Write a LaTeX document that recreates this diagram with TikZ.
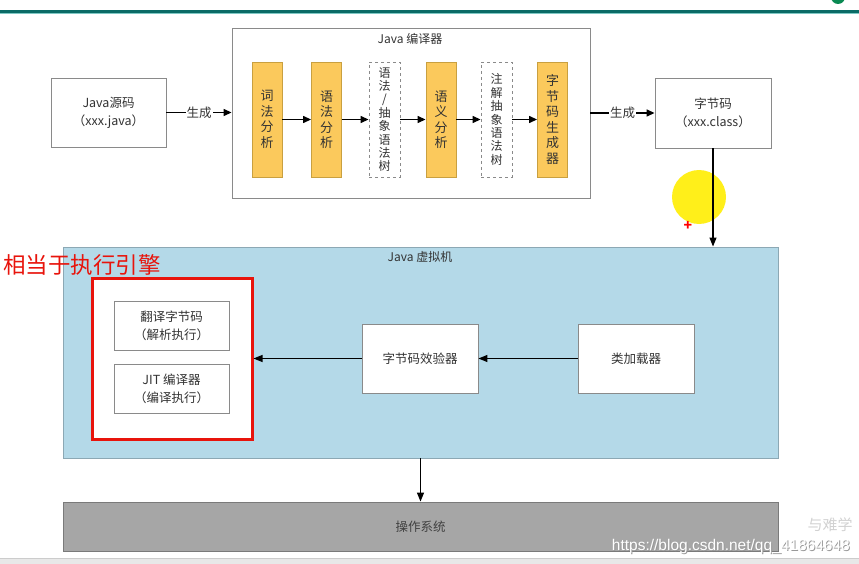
\documentclass[tikz,border=0pt]{standalone}
\usepackage{fontspec}
\setmainfont{Noto Sans CJK SC}
\newfontfamily\wmfont{Liberation Sans}
\usetikzlibrary{arrows.meta}
\definecolor{teal1}{HTML}{0B6B66}
\definecolor{teal2}{HTML}{7FC8C4}
\definecolor{boxgray}{HTML}{8A8A8A}
\definecolor{txt}{HTML}{333333}
\definecolor{yel}{HTML}{FBC95C}
\definecolor{yelb}{HTML}{C9A040}
\definecolor{jvmblue}{HTML}{B4D9E8}
\definecolor{jvmb}{HTML}{8CA8B4}
\definecolor{osgray}{HTML}{A6A6A6}
\definecolor{osb}{HTML}{7A7A7A}
\definecolor{redb}{HTML}{E8140C}
\definecolor{strip}{HTML}{E8E8E8}
\tikzset{
  box/.style={draw=boxgray, fill=white, line width=0.9pt, inner sep=0pt, align=center,
    text=txt, font=\fontsize{12.5}{18}\selectfont},
  ybox/.style={draw=yelb, fill=yel, line width=0.9pt, inner sep=0pt, align=center,
    minimum width=30, minimum height=115, text=txt, font=\fontsize{13}{15.5}\selectfont},
  dbox/.style={draw=boxgray, fill=white, dashed, line width=0.9pt, inner sep=0pt, align=center,
    minimum width=31, minimum height=115, text=txt, font=\fontsize{12}{13.4}\selectfont},
  arr/.style={-{Triangle[length=8pt,width=7pt]}, line width=1.4pt, black},
  arrthin/.style={-{Triangle[length=9pt,width=7pt]}, line width=1.1pt, black},
  lbl/.style={fill=white, inner sep=1pt, text=txt, font=\fontsize{12.5}{14}\selectfont},
  ttl/.style={text=txt, font=\fontsize{12}{14}\selectfont, inner sep=0pt}
}
\begin{document}
\begin{tikzpicture}[x=1pt,y=-1pt]
\useasboundingbox (0,0) rectangle (859,564);
% header
\fill[teal1] (0,10) rectangle (859,13.5);
\fill[teal2] (0,13.5) rectangle (859,14.5);
\begin{scope}
\clip (0,0) rectangle (859,9);
\fill[teal1!80!green] (838,-3) circle (7);
\end{scope}
% bottom strip
\fill[strip] (0,558) rectangle (859,564);
\draw[black!20] (0,558) -- (859,558);

% yellow highlight circle (cursor)
\fill[yellow!95!orange, opacity=0.9] (699,197) circle (27);

% top row
\node[box, minimum width=115, minimum height=69] (src) at (108.5,112.5) {Java源码\\（xxx.java）};
\node[draw=boxgray, fill=white, line width=0.9pt, minimum width=358, minimum height=170, inner sep=0pt] (comp) at (411,113) {};
\node[ttl, anchor=center] (comptitle) at (410,39) {Java 编译器};
\node[ybox] (s1) at (267,119.5) {词\\法\\分\\析};
\node[ybox] (s2) at (326.5,119.5) {语\\法\\分\\析};
\node[dbox] (s3) at (384.5,119.5) {语\\法\\/\\抽\\象\\语\\法\\树};
\node[ybox] (s4) at (441,119.5) {语\\义\\分\\析};
\node[dbox] (s5) at (496.5,119.5) {注\\解\\抽\\象\\语\\法\\树};
\node[ybox] (s6) at (552.5,119.5) {字\\节\\码\\生\\成\\器};
\node[box, minimum width=116, minimum height=70] (bc) at (713,113) {字节码\\（xxx.class）};

\draw[arr] (src.east) -- node[lbl]{生成} (src.east -| comp.west);
\draw[arr] (s1) -- (s2);
\draw[arr] (s2) -- (s3);
\draw[arr] (s3) -- (s4);
\draw[arr] (s4) -- (s5);
\draw[arr] (s5) -- (s6);
\draw[arr] (comp.east) -- node[lbl]{生成} (bc.west);

% JVM
\node[draw=jvmb, fill=jvmblue, line width=0.9pt, minimum width=715, minimum height=211, inner sep=0pt] (jvm) at (420.5,352.5) {};
\draw[arrthin] (bc.south) -- (bc.south |- jvm.north);
\node[ttl] (jvmtitle) at (420,257) {Java 虚拟机};
\node[draw=redb, fill=white, line width=3pt, minimum width=160, minimum height=161, inner sep=0pt] (engine) at (172,358.5) {};
\node[box, minimum width=115, minimum height=49] (interp) at (171.5,325.5) {翻译字节码\\（解析执行）};
\node[box, minimum width=115, minimum height=49] (jit) at (171.5,388.5) {JIT 编译器\\（编译执行）};
\node[box, minimum width=116, minimum height=69] (verif) at (420,358.5) {字节码效验器};
\node[box, minimum width=116, minimum height=69] (loader) at (636,358.5) {类加载器};
\draw[arrthin] (loader.west) -- (verif.east);
\draw[arrthin] (verif.west) -- (engine.east);
\node[text=redb, anchor=west, inner sep=0pt, font=\fontsize{22.5}{24}\selectfont] (redlabel) at (3,265) {相当于执行引擎};

% OS
\node[draw=osb, fill=osgray, line width=0.9pt, minimum width=715, minimum height=49, inner sep=0pt,
  text=black!75, font=\fontsize{12.5}{14}\selectfont] (os) at (420.5,526.5) {操作系统};
\draw[arrthin] (jvm.south) -- (os.north);

% cursor plus
\node[text=red, inner sep=0pt, font=\fontsize{14}{14}\selectfont\bfseries] (plus) at (688,226) {+};

% watermark
\node[text=black!18, inner sep=0pt, font=\fontsize{15}{16}\selectfont] (wm2) at (830,525) {与难学};
\node[text=black!40, anchor=east, inner sep=0pt, font=\wmfont\fontsize{15.5}{17}\selectfont] (wmshadow) at (851,547) {https://blog.csdn.net/qq\_41864648};
\node[text=white, anchor=east, inner sep=0pt, font=\wmfont\fontsize{15.5}{17}\selectfont] (wm) at (850,546) {https://blog.csdn.net/qq\_41864648};
\end{tikzpicture}
\end{document}
